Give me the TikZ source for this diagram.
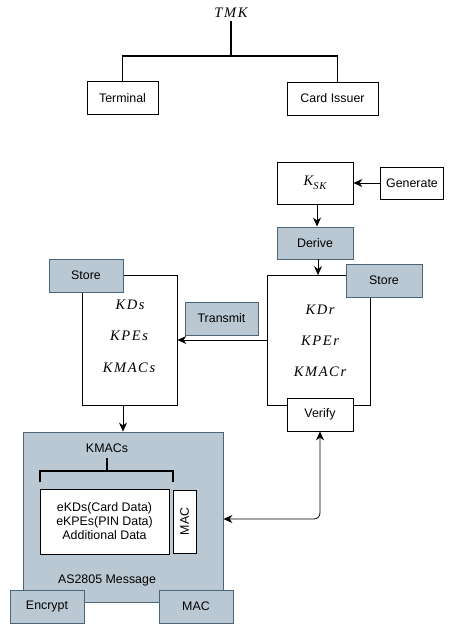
\documentclass[tikz,border=0pt]{standalone}
\usepackage{fontspec}
\setmainfont{Liberation Sans}
\newfontfamily\keyfont{Liberation Serif}
\usetikzlibrary{arrows.meta,calc}
\definecolor{panel}{HTML}{BAC8D3}
\definecolor{panelline}{HTML}{4A6478}
% key names are set in spaced italic, like math variables
\newcommand{\kk}{\kern1.6pt}
\tikzset{
  lbl/.style={font=\fontsize{12.4}{14}\selectfont},
  keylbl/.style={font=\fontsize{14.5}{16}\selectfont\keyfont\itshape},
  plain/.style={draw=black, line width=0.8pt, fill=white, inner sep=0pt, lbl},
  shaded/.style={draw=panelline, line width=0.9pt, fill=panel, inner sep=0pt, lbl},
  tree/.style={line width=1.8pt},
  flow/.style={line width=0.8pt, -{Stealth[length=9pt,width=8pt]}},
}
\begin{document}
\begin{tikzpicture}[x=1pt,y=-1pt]
\useasboundingbox (0,0) rectangle (453,625);

% key hierarchy at the top
\node[keylbl] (tmk) at (231,13) {T\kk M\kk K};
\node[plain, minimum width=71pt, minimum height=33pt] (terminal) at (122.5,98) {Terminal};
\node[plain, minimum width=91pt, minimum height=33pt] (issuer) at (332.5,98.5) {Card Issuer};
\coordinate (junction) at (231,56);
\draw[tree] (tmk.south) -- (junction);
\draw[tree] (terminal.north) |- (junction) -| ($(issuer.north)+(5,0)$);

% session key generation
\node[plain, minimum width=76pt, minimum height=42pt, keylbl] (ksk) at (315,183)
  {K\raisebox{-3.5pt}{\fontsize{10.5}{10}\selectfont S\kern0.8pt K}};
\node[plain, minimum width=63pt, minimum height=32pt] (generate) at (412,183) {Generate};
\node[shaded, minimum width=76pt, minimum height=32pt] (derive) at (315,243) {Derive};

% receiver side keys
\node[plain, minimum width=103pt, minimum height=130pt] (rbox) at (318.5,340.5) {};
\node[keylbl] (kdr) at (320,310) {K\kk D\kk r};
\node[keylbl] (kper) at (320,341) {K\kk P\kk E\kk r};
\node[keylbl] (kmacr) at (320,372) {K\kk M\kk A\kk C\kk r};
\node[shaded, minimum width=76pt, minimum height=33pt] (rstore) at (384,280.5) {Store};
\node[plain, minimum width=66pt, minimum height=33pt] (verify) at (320,414.5) {Verify};

% sender side keys
\node[plain, minimum width=95pt, minimum height=130pt] (lbox) at (129.5,340.5) {};
\node[keylbl] (kds) at (130,305) {K\kk D\kk s};
\node[keylbl] (kpes) at (129,336) {K\kk P\kk E\kk s};
\node[keylbl] (kmacs) at (129,368) {K\kk M\kk A\kk C\kk s};
\node[shaded, minimum width=74pt, minimum height=33pt] (lstore) at (86,275.5) {Store};
\node[shaded, minimum width=73pt, minimum height=33pt] (transmit) at (221.5,318.5) {Transmit};

% AS2805 message
\node[shaded, minimum width=200pt, minimum height=170pt] (msg) at (123,517) {};
\node[lbl] (macs) at (107,448) {KMACs};
\draw[tree] (40,482) -- (40,471) -- (173,471) -- (173,482);
\draw[tree] (macs.south) ++(0,2) -- (107,471);
\node[plain, minimum width=129pt, minimum height=65pt, align=center] (payload) at (104.5,521.5)
  {eKDs(Card Data)\\eKPEs(PIN Data)\\Additional Data};
\node[plain, minimum width=23pt, minimum height=63pt] (macfield) at (184.5,521.5) {};
\node[lbl, rotate=90] (mactext) at (macfield) {MAC};
\node[lbl] (msgname) at (107,580) {AS2805 Message};
\node[shaded, minimum width=74pt, minimum height=33pt] (encrypt) at (47,606.5) {Encrypt};
\node[shaded, minimum width=74pt, minimum height=33pt] (macop) at (196,606.5) {MAC};

% connectors
\draw[flow] (generate.west) -- (ksk.east);
\draw[flow] ($(ksk.south)+(2,0)$) -- ($(derive.north)+(2,0)$);
\draw[flow] ($(derive.south)+(3,0)$) -- ($(rbox.north)+(-0.5,0)$);
\draw[flow] ($(rbox.west)+(0,-0.5)$) -- ($(lbox.east)+(0,-0.5)$);
\draw[flow] ($(lbox.south)+(-6.5,0)$) -- ($(msg.north)+(0,0)$);
\draw[line width=0.8pt, {Stealth[length=9pt,width=8pt]}-{Stealth[length=9pt,width=8pt]}, rounded corners=6pt]
  (msg.east |- 0,519) -| (verify.south);
\end{tikzpicture}
\end{document}
